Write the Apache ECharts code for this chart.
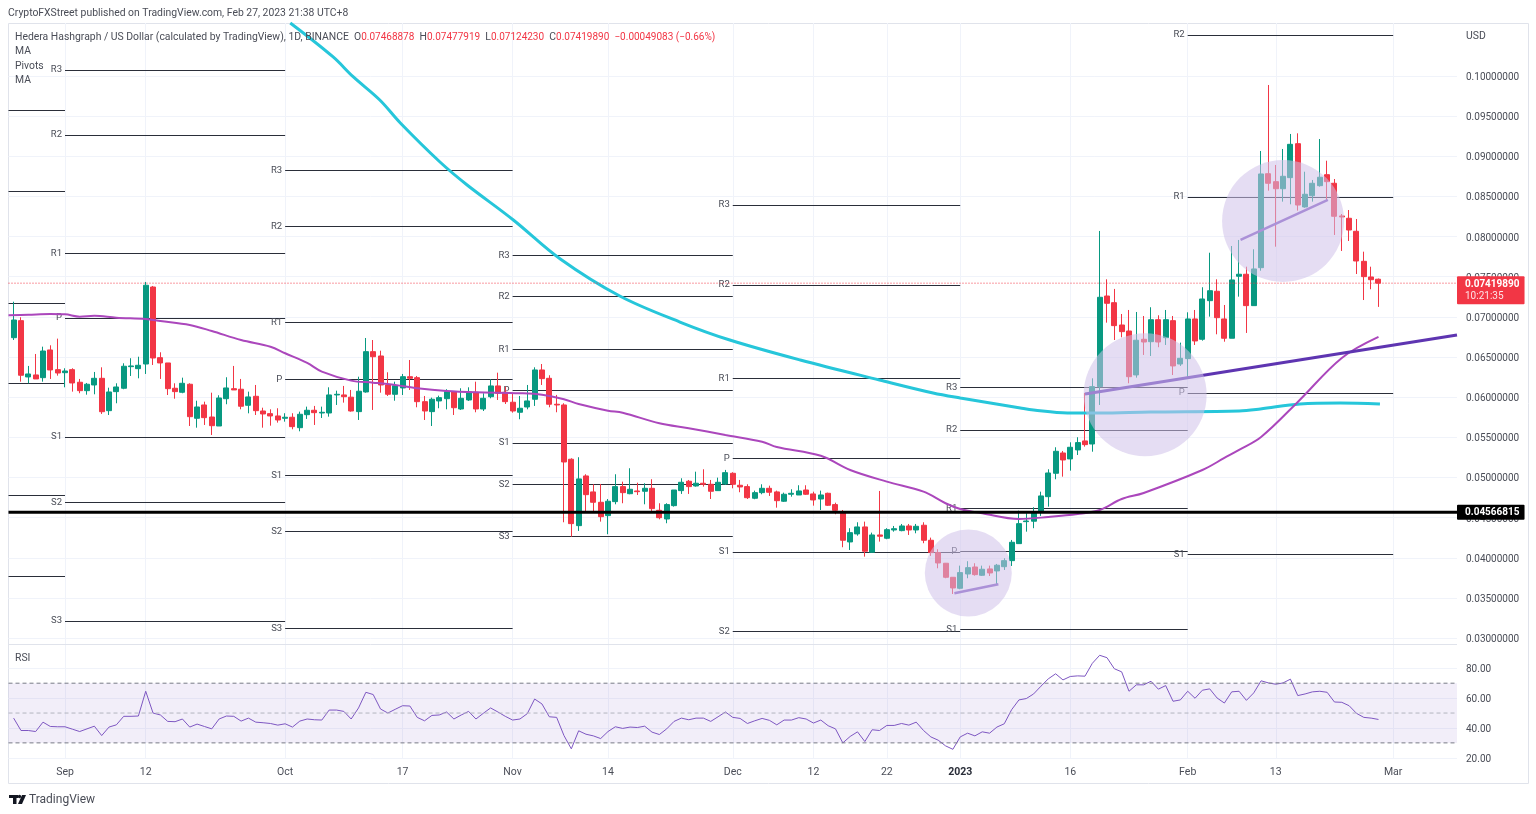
<!DOCTYPE html>
<html>
<head>
<meta charset="utf-8">
<title>HBAR/USD</title>
<style>
  html, body { margin: 0; padding: 0; background: #fff; }
  #chart { width: 1536px; height: 814px; }
</style>
<script src="https://cdn.jsdelivr.net/npm/echarts@6/dist/echarts.min.js"></script>
</head>
<body>
<div id="chart"></div>
<script>
// x values are days counted from 1 Sep 2022
const firstCandleDay = -7;
const xMin = -7.7;
const xMax = 189.7;
const xTickDays = [0, 11, 30, 46, 61, 74, 91, 102, 112, 122, 137, 153, 165, 181];
const xTickLabels = ['Sep', '12', 'Oct', '17', 'Nov', '14', 'Dec', '12', '22', '{b|2023}', '16', 'Feb', '13', 'Mar'];
const priceTicks = [0.03, 0.035, 0.04, 0.045, 0.05, 0.055, 0.06, 0.065, 0.07, 0.075, 0.08, 0.085, 0.09, 0.095, 0.1];
const rsiTicks = [20, 40, 60, 80];

// daily candles: open, close, low, high
const candles = [
  [.06741,.06961,.06712,.07189],[.06953,.06273,.06193,.06995],[.06252,.06289,.06173,.06389],[.06277,.06227,.06227,.06538],
  [.06243,.06575,.06193,.06629],[.06588,.06339,.06227,.06646],[.06343,.06301,.06268,.06729],[.06305,.06326,.06123,.06360],
  [.06343,.06177,.06069,.06360],[.06186,.06081,.06049,.06227],[.06081,.06161,.06031,.06177],[.06152,.06235,.06036,.06314],
  [.06235,.05819,.05791,.06372],[.05832,.06065,.05778,.06118],[.06069,.06127,.05924,.06173],[.06111,.06385,.06099,.06422],
  [.06380,.06389,.06264,.06485],[.06355,.06397,.06235,.06504],[.06413,.07394,.06289,.07435],[.07372,.06488,.06401,.07385],
  [.06492,.06426,.06227,.06559],[.06426,.06106,.06027,.06426],[.06111,.06069,.05981,.06173],[.06061,.06173,.06049,.06243],
  [.06161,.05757,.05641,.06173],[.05737,.05878,.05620,.05956],[.05903,.05745,.05654,.05944],[.05753,.05645,.05529,.06056],
  [.05641,.05990,.05641,.06024],[.05981,.06115,.05912,.06248],[.06106,.06090,.06090,.06389],[.06099,.05887,.05849,.06227],
  [.05899,.06003,.05799,.06069],[.06011,.05832,.05778,.06152],[.05828,.05791,.05620,.05869],[.05795,.05766,.05645,.05849],
  [.05766,.05716,.05683,.05862],[.05737,.05750,.05695,.05800],[.05750,.05633,.05600,.05800],[.05620,.05787,.05575,.05820],
  [.05782,.05837,.05729,.05882],[.05837,.05807,.05654,.05891],[.05803,.05812,.05741,.05882],[.05803,.06028,.05757,.06123],
  [.06028,.06036,.05903,.06081],[.06028,.06006,.05932,.06140],[.06000,.05828,.05820,.06090],[.05820,.06074,.05716,.06255],
  [.06065,.06567,.06056,.06737],[.06567,.06504,.05841,.06712],[.06513,.06152,.06056,.06579],[.06152,.06036,.06015,.06310],
  [.06036,.06143,.05956,.06193],[.06115,.06255,.06027,.06289],[.06255,.06235,.06090,.06463],[.06243,.05944,.05874,.06264],
  [.05944,.05828,.05716,.06015],[.05820,.05974,.05641,.05994],[.05953,.05994,.05862,.06019],[.05981,.06069,.05849,.06099],
  [.06065,.05869,.05778,.06077],[.05853,.05986,.05841,.06111],[.05965,.06065,.05953,.06123],[.06061,.05853,.05812,.06193],
  [.05853,.05986,.05828,.06049],[.06006,.06140,.05986,.06223],[.06140,.06049,.05965,.06305],[.06061,.05944,.05915,.06131],
  [.05937,.05828,.05807,.06049],[.05812,.05862,.05725,.06015],[.05878,.05953,.05849,.06152],[.05974,.06339,.05891,.06372],
  [.06339,.06231,.06152,.06413],[.06235,.05912,.05874,.06273],[.05912,.05903,.05812,.06028],[.05903,.05193,.04442,.05924],
  [.05227,.04425,.04263,.05239],[.04400,.04982,.04334,.05252],[.05019,.04786,.04574,.05040],[.04820,.04691,.04574,.04915],
  [.04691,.04512,.04450,.04919],[.04525,.04704,.04293,.04732],[.04699,.04886,.04666,.05040],[.04886,.04811,.04679,.04948],
  [.04798,.04853,.04791,.05115],[.04832,.04823,.04782,.04935],[.04828,.04865,.04666,.04928],[.04865,.04612,.04574,.04978],
  [.04591,.04499,.04479,.04679],[.04483,.04662,.04430,.04679],[.04649,.04844,.04637,.04844],[.04836,.04940,.04795,.04990],
  [.04953,.04886,.04795,.04969],[.04894,.04928,.04886,.05072],[.04928,.04915,.04886,.05102],[.04915,.04828,.04732,.04969],
  [.04836,.04940,.04832,.04998],[.04919,.05060,.04907,.05094],[.05052,.04915,.04865,.05065],[.04903,.04882,.04816,.04969],
  [.04886,.04748,.04732,.04915],[.04741,.04811,.04729,.04836],[.04811,.04865,.04791,.04915],[.04865,.04816,.04770,.04898],
  [.04820,.04711,.04624,.04836],[.04704,.04791,.04695,.04811],[.04791,.04803,.04761,.04853],[.04782,.04832,.04782,.04903],
  [.04844,.04791,.04782,.04903],[.04795,.04720,.04649,.04823],[.04732,.04782,.04595,.04836],[.04803,.04654,.04645,.04811],
  [.04662,.04591,.04542,.04686],[.04570,.04218,.04131,.04595],[.04197,.04313,.04097,.04368],[.04297,.04384,.04275,.04442],
  [.04384,.04081,.04014,.04450],[.04069,.04284,.04064,.04313],[.04284,.04268,.04201,.04832],[.04243,.04350,.04231,.04368],
  [.04346,.04362,.04325,.04396],[.04338,.04396,.04330,.04421],[.04396,.04346,.04284,.04421],[.04346,.04392,.04305,.04421],
  [.04405,.04218,.04181,.04442],[.04218,.04064,.04023,.04251],[.04064,.03935,.03869,.04106],[.03932,.03757,.03745,.03935],
  [.03757,.03624,.03549,.03757],[.03620,.03815,.03608,.03902],[.03798,.03877,.03745,.03957],[.03885,.03790,.03777,.03932],
  [.03782,.03857,.03773,.03902],[.03861,.03811,.03773,.03902],[.03836,.03907,.03670,.03923],[.03889,.03964,.03848,.03994],
  [.03964,.04193,.03898,.04222],[.04176,.04425,.04172,.04587],[.04450,.04458,.04325,.04554],[.04455,.04570,.04368,.04629],
  [.04574,.04770,.04521,.04823],[.04761,.05056,.04637,.05102],[.05052,.05326,.04978,.05376],[.05305,.05218,.05010,.05330],
  [.05231,.05376,.05085,.05438],[.05343,.05434,.05280,.05501],[.05455,.05409,.05384,.06052],[.05417,.06131,.05321,.06235],
  [.06131,.07244,.05903,.08070],[.07260,.07169,.06928,.07468],[.07177,.06891,.06712,.07348],[.06899,.06816,.06746,.07036],
  [.06824,.06255,.06173,.07086],[.06277,.06709,.06243,.07061],[.06721,.06687,.06526,.07011],[.06691,.06965,.06513,.07120],
  [.06965,.06687,.06622,.07020],[.06741,.06965,.06650,.07086],[.06953,.06389,.06276,.07011],[.06413,.06484,.06389,.06679],
  [.06480,.06974,.06255,.07057],[.06974,.06700,.06650,.07086],[.06721,.07223,.06704,.07369],[.07202,.07326,.07003,.07799],
  [.07319,.06990,.06783,.07468],[.06974,.06734,.06691,.07148],[.06734,.07460,.06734,.07883],[.07506,.07531,.07252,.07958],
  [.07531,.07140,.06800,.07625],[.07140,.07597,.07140,.07842],[.07613,.08780,.07575,.09066],[.08783,.08664,.08572,.09888],
  [.08684,.08596,.07874,.08892],[.08596,.08751,.08435,.09091],[.08734,.09149,.08402,.09278],[.09157,.08393,.08323,.09286],
  [.08369,.08527,.08360,.08808],[.08509,.08664,.08435,.08705],[.08634,.08739,.08622,.09215],[.08771,.08684,.08456,.08945],
  [.08664,.08253,.08020,.08717],[.08257,.08244,.07821,.08281],[.08228,.08082,.07945,.08331],[.08066,.07696,.07534,.08219],
  [.07692,.07501,.07210,.07812],[.07497,.07463,.07344,.07625],[.07468878,.0741989,.0712423,.07477919]
];

// daily RSI, same days as the candles
const rsiValues = [
  46.6,38.3,38.3,37.6,43.9,41.0,40.8,40.8,39.2,37.6,39.4,41.2,34.9,40.6,42.1,47.8,47.8,48.0,64.6,50.0,
  48.7,44.4,44.2,46.0,40.6,42.6,41.0,39.4,46.0,48.0,47.8,44.6,46.6,43.9,43.5,43.0,41.9,42.8,40.6,44.6,
  46.0,45.5,45.3,52.0,52.0,51.1,46.0,53.4,63.9,62.4,52.7,50.0,52.5,54.9,54.7,47.1,44.8,48.4,48.7,50.7,
  46.0,48.7,51.1,46.0,49.8,53.4,50.7,47.8,45.3,46.0,49.6,59.4,56.1,47.5,47.1,34.9,26.0,38.1,35.8,34.7,
  32.9,37.6,40.8,39.7,40.6,40.3,41.2,37.2,35.6,39.4,44.4,46.6,45.5,46.6,46.6,44.4,47.5,50.7,47.1,46.4,
  43.0,44.8,46.4,45.1,42.1,45.3,45.3,46.9,46.0,43.3,45.3,41.5,39.4,30.0,34.3,37.4,30.9,38.8,38.3,41.7,
  41.7,43.0,41.9,43.9,38.3,34.0,31.8,28.0,25.7,34.0,36.5,34.7,37.4,36.5,40.6,42.8,52.2,58.8,59.7,62.8,
  68.0,72.9,76.3,72.2,74.5,74.9,74.7,83.3,88.7,87.1,79.7,77.6,64.6,68.9,68.9,71.3,66.0,68.4,57.9,58.8,
  64.6,59.9,65.3,66.2,60.1,56.7,64.2,64.6,58.5,63.5,71.6,70.2,69.3,70.2,72.7,61.7,62.8,64.2,64.6,63.9,
  57.4,57.2,54.9,49.8,47.1,46.6,45.7
];

// moving averages: day, price
const maPurple = [
  [-7.7,.0702],[-5,.07027],[-2,.07036],[0,.07032],[2,.07003],[4,.07015],[7,.0699],[11,.06974],[13,.06949],[17,.06899],
  [20,.06824],[24,.06712],[28,.06629],[30,.06547],[33,.06426],[35,.06318],[39,.06206],[42,.06181],[45,.06152],[48,.06111],
  [52,.06077],[56,.06061],[62,.06049],[65,.06031],[68,.05974],[70,.05915],[74,.05832],[76,.05807],[81,.05675],[85,.05613],
  [90,.05529],[95,.05446],[97,.0538],[103,.0527],[107,.05093],[112,.04948],[117,.04823],[120,.04679],[122,.04608],[125,.04554],
  [130,.04483],[134,.04508],[138,.04545],[141,.04595],[144,.04732],[147,.04807],[155,.05093],[158,.05243],[160,.05343],[163,.05504],
  [168,.0594],[174,.06488],[179,.0675]
];
const maCyan = [
  [30.7,.1066],[36.5,.1024],[39.3,.09988],[42.9,.09701],[45.7,.09415],[51.1,.08929],[54.8,.08643],[61.1,.08207],[67.5,.07721],
  [75.6,.0726],[83.8,.06936],[90.6,.06712],[100.2,.06463],[111,.06214],[118.3,.06052],[122,.0599],[130.2,.05866],[132,.05841],
  [136.6,.05803],[141,.05803],[147.9,.05816],[160,.05828],[162.9,.05853],[168.3,.05916],[173.8,.05928],[179.2,.05916]
];

// monthly pivots
const pivotNames = ['R3', 'R2', 'R1', 'P', 'S1', 'S2', 'S3'];
const pivotPeriods = [[xMin, 0], [0, 30], [30, 61], [61, 91], [91, 122], [122, 153], [153, 181]];
const pivotAug = [.09577, .08568, .07173, .06173, .04778, .0377, null];
const pivotSep = [.10075, .09265, .07787, .06986, .05504, .04691, .03213];
const pivotOct = [.08826, .08128, .06928, .06223, .05022, .04325, .03122];
const pivotNov = [.07767, .07252, .06594, .06081, .0543, .04915, .04263];
const pivotDec = [.08394, .07397, .0623, .05239, .04072, .03085, null];
const pivotJan = [.06123, .05592, .04612, .04081, .03105, null, null];
const pivotFeb = [null, .10511, .08493, .06052, .04041, null, null];

// drawn on the chart by the author
const trendMain = [[139, .0604], [xMax, .06775]];
const trendDec = [[121.2, .03558], [127.2, .0367]];
const trendFeb = [[160.2, .07958], [172.1, .08456]];
const circleSpots = [[123.1, .03811, 87], [147.2, .06031, 123], [166, .08194, 122]];

const lastPrice = 0.0741989;
const supportLevel = 0.04566815;

const FONT = 'Roboto, "Liberation Sans", sans-serif';
const GRID_LINE = '#f0f3fa';
const TEXT = '#4a4d57';
const UP = '#089981';
const DOWN = '#f23645';

const candleData = candles.map((row, i) => [firstCandleDay + i, row[0], row[1], row[2], row[3]]);
const rsiData = rsiValues.map((v, i) => [firstCandleDay + i, v]);

const pivotLines = [];
[pivotAug, pivotSep, pivotOct, pivotNov, pivotDec, pivotJan, pivotFeb].forEach((levels, p) => {
  levels.forEach((v, i) => {
    if (v === null) return;
    pivotLines.push([
      { coord: [pivotPeriods[p][0], v], name: pivotNames[i], label: { show: p > 0 } },
      { coord: [pivotPeriods[p][1], v] }
    ]);
  });
});

function trendSeries(data, color, width, smooth) {
  return {
    type: 'line', data: data, xAxisIndex: 0, yAxisIndex: 0, showSymbol: false, silent: true, smooth: smooth || false,
    lineStyle: { color: color, width: width }, z: 3
  };
}

function noteTitle(text, left, top, size) {
  return {
    text: text, left: left, top: top, padding: 0,
    textStyle: { fontFamily: FONT, fontSize: size || 10.4, fontWeight: 'normal', color: TEXT }
  };
}

// full width horizontal level, optional price tag at its right end
function levelSeries(axisIndex, value, lineStyle, tag) {
  return {
    type: 'line', xAxisIndex: axisIndex, yAxisIndex: axisIndex, silent: true, z: 5,
    data: [[xMin, value], [xMax, value]],
    showSymbol: false, clip: false,
    lineStyle: lineStyle,
    endLabel: tag || { show: false }
  };
}

function xAxisFor(gridIndex, showLabels) {
  return {
    type: 'value', gridIndex: gridIndex, min: xMin, max: xMax,
    axisLine: { show: false },
    axisTick: { show: false, customValues: xTickDays },
    splitLine: { show: true, lineStyle: { color: GRID_LINE, width: 1 } },
    axisLabel: {
      show: showLabels, customValues: xTickDays, margin: 8, fontFamily: FONT, fontSize: 10.5, color: TEXT,
      formatter: (v) => xTickLabels[xTickDays.indexOf(v)],
      rich: { b: { fontFamily: FONT, fontSize: 10.5, fontWeight: 'bold', color: '#2a2e39' } }
    }
  };
}

function yLabel(ticks, digits) {
  return {
    customValues: ticks, margin: 9, fontFamily: FONT, fontSize: 10, color: TEXT,
    formatter: (v) => '{a|' + v.toFixed(digits) + '}',
    rich: { a: { fontFamily: FONT, fontSize: 10, color: TEXT, padding: [3, 0, 0, 0] } }
  };
}

const chart = echarts.init(document.getElementById('chart'), null, { renderer: 'canvas' });

chart.setOption({
  animation: false,
  backgroundColor: '#fff',
  title: [
    noteTitle('CryptoFXStreet published on TradingView.com, Feb 27, 2023 21:38 UTC+8', 8, 8),
    {
      text: 'Hedera Hashgraph / US Dollar (calculated by TradingView), 1D, BINANCE  O{r|0.07468878}  H{r|0.07477919}  L{r|0.07124230}  C{r|0.07419890}  {r|−0.00049083 (−0.66%)}',
      left: 15, top: 32, padding: 0,
      textStyle: {
        fontFamily: FONT, fontSize: 10.4, fontWeight: 'normal', color: TEXT,
        rich: { r: { fontFamily: FONT, fontSize: 10, color: DOWN } }
      }
    },
    noteTitle('MA', 15, 46),
    noteTitle('Pivots', 15, 61),
    noteTitle('MA', 15, 75),
    noteTitle('RSI', 15, 653),
    noteTitle('USD', 1466, 31),
    noteTitle('TradingView', 29, 794, 12)
  ],
  graphic: [
    { type: 'rect', silent: true, z: 0, shape: { x: 8.5, y: 23.5, width: 1520, height: 760 }, style: { fill: 'none', stroke: '#e0e3eb', lineWidth: 1 } },
    { type: 'line', silent: true, z: 0, shape: { x1: 8.5, y1: 644.5, x2: 1457, y2: 644.5 }, style: { stroke: '#e0e3eb', lineWidth: 1 } },
    { type: 'rect', silent: true, shape: { x: 9, y: 795, width: 9, height: 3 }, style: { fill: '#131722' } },
    { type: 'rect', silent: true, shape: { x: 13, y: 795, width: 3.5, height: 9 }, style: { fill: '#131722' } },
    { type: 'circle', silent: true, shape: { cx: 19.5, cy: 796.5, r: 1.7 }, style: { fill: '#131722' } },
    { type: 'polygon', silent: true, shape: { points: [[22, 795], [26, 795], [22, 804], [18, 804]] }, style: { fill: '#131722' } }
  ],
  grid: [
    { left: 8.5, right: 79, top: 23, height: 621, containLabel: false },
    { left: 8.5, right: 79, top: 645, height: 114, containLabel: false }
  ],
  xAxis: [xAxisFor(0, false), xAxisFor(1, true)],
  yAxis: [
    {
      type: 'value', gridIndex: 0, position: 'right', min: 0.02926, max: 0.1066,
      axisLine: { show: false },
      axisTick: { show: false, customValues: priceTicks },
      splitLine: { show: true, lineStyle: { color: GRID_LINE, width: 1 } },
      axisLabel: yLabel(priceTicks, 8)
    },
    {
      type: 'value', gridIndex: 1, position: 'right', min: 19.2, max: 95.6,
      axisLine: { show: false },
      axisTick: { show: false, customValues: rsiTicks },
      splitLine: { show: true, lineStyle: { color: GRID_LINE, width: 1 } },
      axisLabel: yLabel(rsiTicks, 2)
    }
  ],
  series: [
    {
      name: 'Pivots', type: 'line', xAxisIndex: 0, yAxisIndex: 0, data: [], silent: true, z: 1,
      markLine: {
        silent: true, symbol: 'none', animation: false, z: 1, precision: 8,
        lineStyle: { color: '#2a2e39', width: 1, type: 'solid' },
        label: { show: true, position: 'start', distance: 3, formatter: '{b}', fontFamily: FONT, fontSize: 9.5, color: TEXT },
        data: pivotLines
      }
    },
    levelSeries(0, lastPrice, { color: DOWN, width: 1, type: [1, 2] }, {
      show: true, distance: 0, offset: [0, 7], padding: [2, 5, 2, 8], borderRadius: 1,
      backgroundColor: DOWN, fontFamily: FONT, fontSize: 10, lineHeight: 12, color: '#fff',
      formatter: '{a|' + lastPrice.toFixed(8) + '}\n{b|10:21:35}',
      rich: {
        a: { fontFamily: FONT, fontSize: 10, lineHeight: 12, color: '#fff', fontWeight: 'bold' },
        b: { fontFamily: FONT, fontSize: 10, lineHeight: 12, color: '#fde3e6' }
      }
    }),
    levelSeries(0, supportLevel, { color: '#000', width: 3, type: 'solid' }, {
      show: true, distance: 0, padding: [2, 5, 1, 8], borderRadius: 1,
      backgroundColor: '#000', fontFamily: FONT, fontSize: 10, lineHeight: 12, color: '#fff', fontWeight: 'bold',
      formatter: supportLevel.toFixed(8)
    }),
    {
      name: 'HBAR', type: 'candlestick', xAxisIndex: 0, yAxisIndex: 0, data: candleData,
      encode: { x: 0, y: [1, 2, 3, 4] }, barWidth: 5.5, silent: true, z: 2, clip: true,
      itemStyle: { color: UP, color0: DOWN, borderColor: UP, borderColor0: DOWN, borderColorDoji: UP, borderWidth: 1 }
    },
    trendSeries(maCyan, '#26c6da', 3, 0.35),
    trendSeries(maPurple, '#ab47bc', 2, 0.35),
    trendSeries(trendMain, '#5e35b1', 3),
    trendSeries(trendDec, '#7e57c2', 2.5),
    trendSeries(trendFeb, '#7e57c2', 2.5),
    {
      name: 'Circles', type: 'scatter', xAxisIndex: 0, yAxisIndex: 0, silent: true, z: 6,
      data: circleSpots.map((c) => [c[0], c[1]]),
      symbol: 'circle',
      symbolSize: (v, p) => circleSpots[p.dataIndex][2],
      itemStyle: { color: 'rgba(208,193,233,0.55)', opacity: 1 }
    },
    levelSeries(1, 70, { color: '#787b86', width: 1, type: [4, 3] }),
    levelSeries(1, 50, { color: '#b2b5be', width: 1, type: [4, 3] }),
    levelSeries(1, 30, { color: '#787b86', width: 1, type: [4, 3] }),
    {
      name: 'RSI', type: 'line', xAxisIndex: 1, yAxisIndex: 1, data: rsiData, showSymbol: false, silent: true, z: 3,
      lineStyle: { color: '#7e57c2', width: 1 },
      markArea: {
        silent: true, animation: false,
        itemStyle: { color: 'rgba(126,87,194,0.1)' },
        data: [[{ yAxis: 30 }, { yAxis: 70 }]]
      }
    }
  ]
});
</script>
</body>
</html>
